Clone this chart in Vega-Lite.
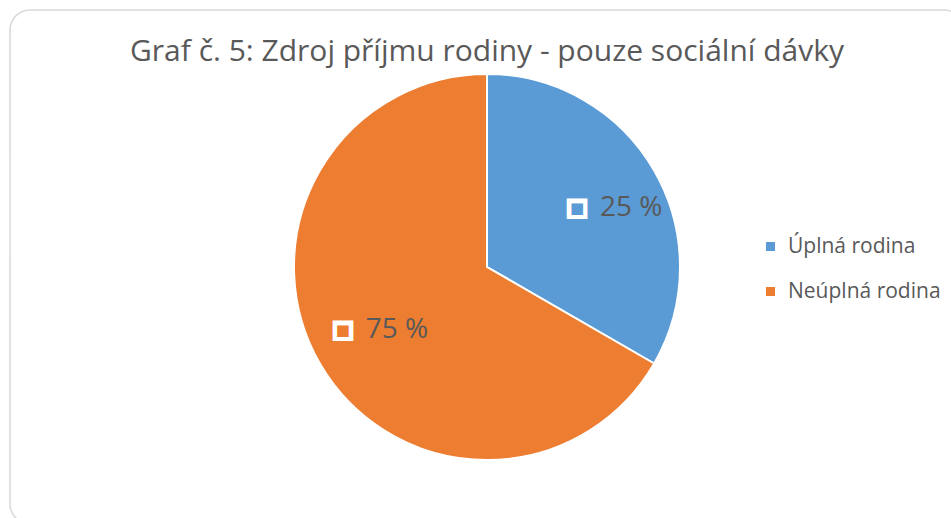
{
  "$schema": "https://vega.github.io/schema/vega-lite/v6.json",
  "autosize": {"type": "none"},
  "width": 954,
  "height": 514,
  "padding": {"left": 10, "top": 10, "right": -13, "bottom": -6},
  "background": "white",
  "view": {"stroke": "#d9d9d9", "strokeWidth": 1.5, "cornerRadius": 20, "fill": "white"},
  "config": {
    "view": {"stroke": "#d9d9d9", "strokeWidth": 1.5, "cornerRadius": 20},
    "font": "Open Sans"
  },
  "title": {
    "text": "Graf č. 5: Zdroj příjmu rodiny - pouze sociální dávky",
    "fontSize": 30,
    "fontWeight": "normal",
    "color": "#595959",
    "font": "Open Sans",
    "anchor": "middle",
    "baseline": "alphabetic",
    "offset": -81
  },
  "data": {
    "values": [
      {"kategorie": "Úplná rodina", "hodnota": 1, "popisek": "25 %", "poradi": 1},
      {"kategorie": "Neúplná rodina", "hodnota": 2, "popisek": "75 %", "poradi": 2}
    ]
  },
  "encoding": {
    "theta": {"field": "hodnota", "type": "quantitative", "stack": true},
    "order": {"field": "poradi", "type": "quantitative"}
  },
  "layer": [
    {
      "mark": {"type": "arc", "outerRadius": 193, "stroke": "white", "strokeWidth": 2},
      "encoding": {
        "color": {
          "field": "kategorie",
          "type": "nominal",
          "sort": ["Úplná rodina", "Neúplná rodina"],
          "scale": {"domain": ["Úplná rodina", "Neúplná rodina"], "range": ["#5B9BD5", "#ED7D31"]},
          "legend": {
            "title": null,
            "orient": "none",
            "legendX": 750,
            "legendY": 226,
            "symbolType": "square",
            "symbolSize": 81,
            "symbolStrokeWidth": 0,
            "labelFontSize": 21,
            "labelColor": "#595959",
            "labelFont": "Open Sans",
            "labelOffset": 7,
            "rowPadding": 23
          }
        }
      }
    },
    {
      "mark": {"type": "text", "radius": 132, "thetaOffset": 0.044, "text": "■", "font": "DejaVu Sans", "fontSize": 27, "color": "white", "dx": -27, "dy": 2, "baseline": "middle", "align": "center"}
    },
    {
      "mark": {"type": "text", "radius": 132, "thetaOffset": 0.044, "text": "■", "font": "DejaVu Sans", "fontSize": 15, "dx": -27, "dy": 2, "baseline": "middle", "align": "center"},
      "encoding": {
        "color": {"field": "kategorie", "type": "nominal", "legend": null}
      }
    },
    {
      "mark": {"type": "text", "radius": 132, "thetaOffset": 0.044, "fontSize": 28, "color": "#595959", "font": "Open Sans", "dx": 27, "dy": 2, "baseline": "middle", "align": "center"},
      "encoding": {
        "text": {"field": "popisek", "type": "nominal"}
      }
    }
  ]
}
